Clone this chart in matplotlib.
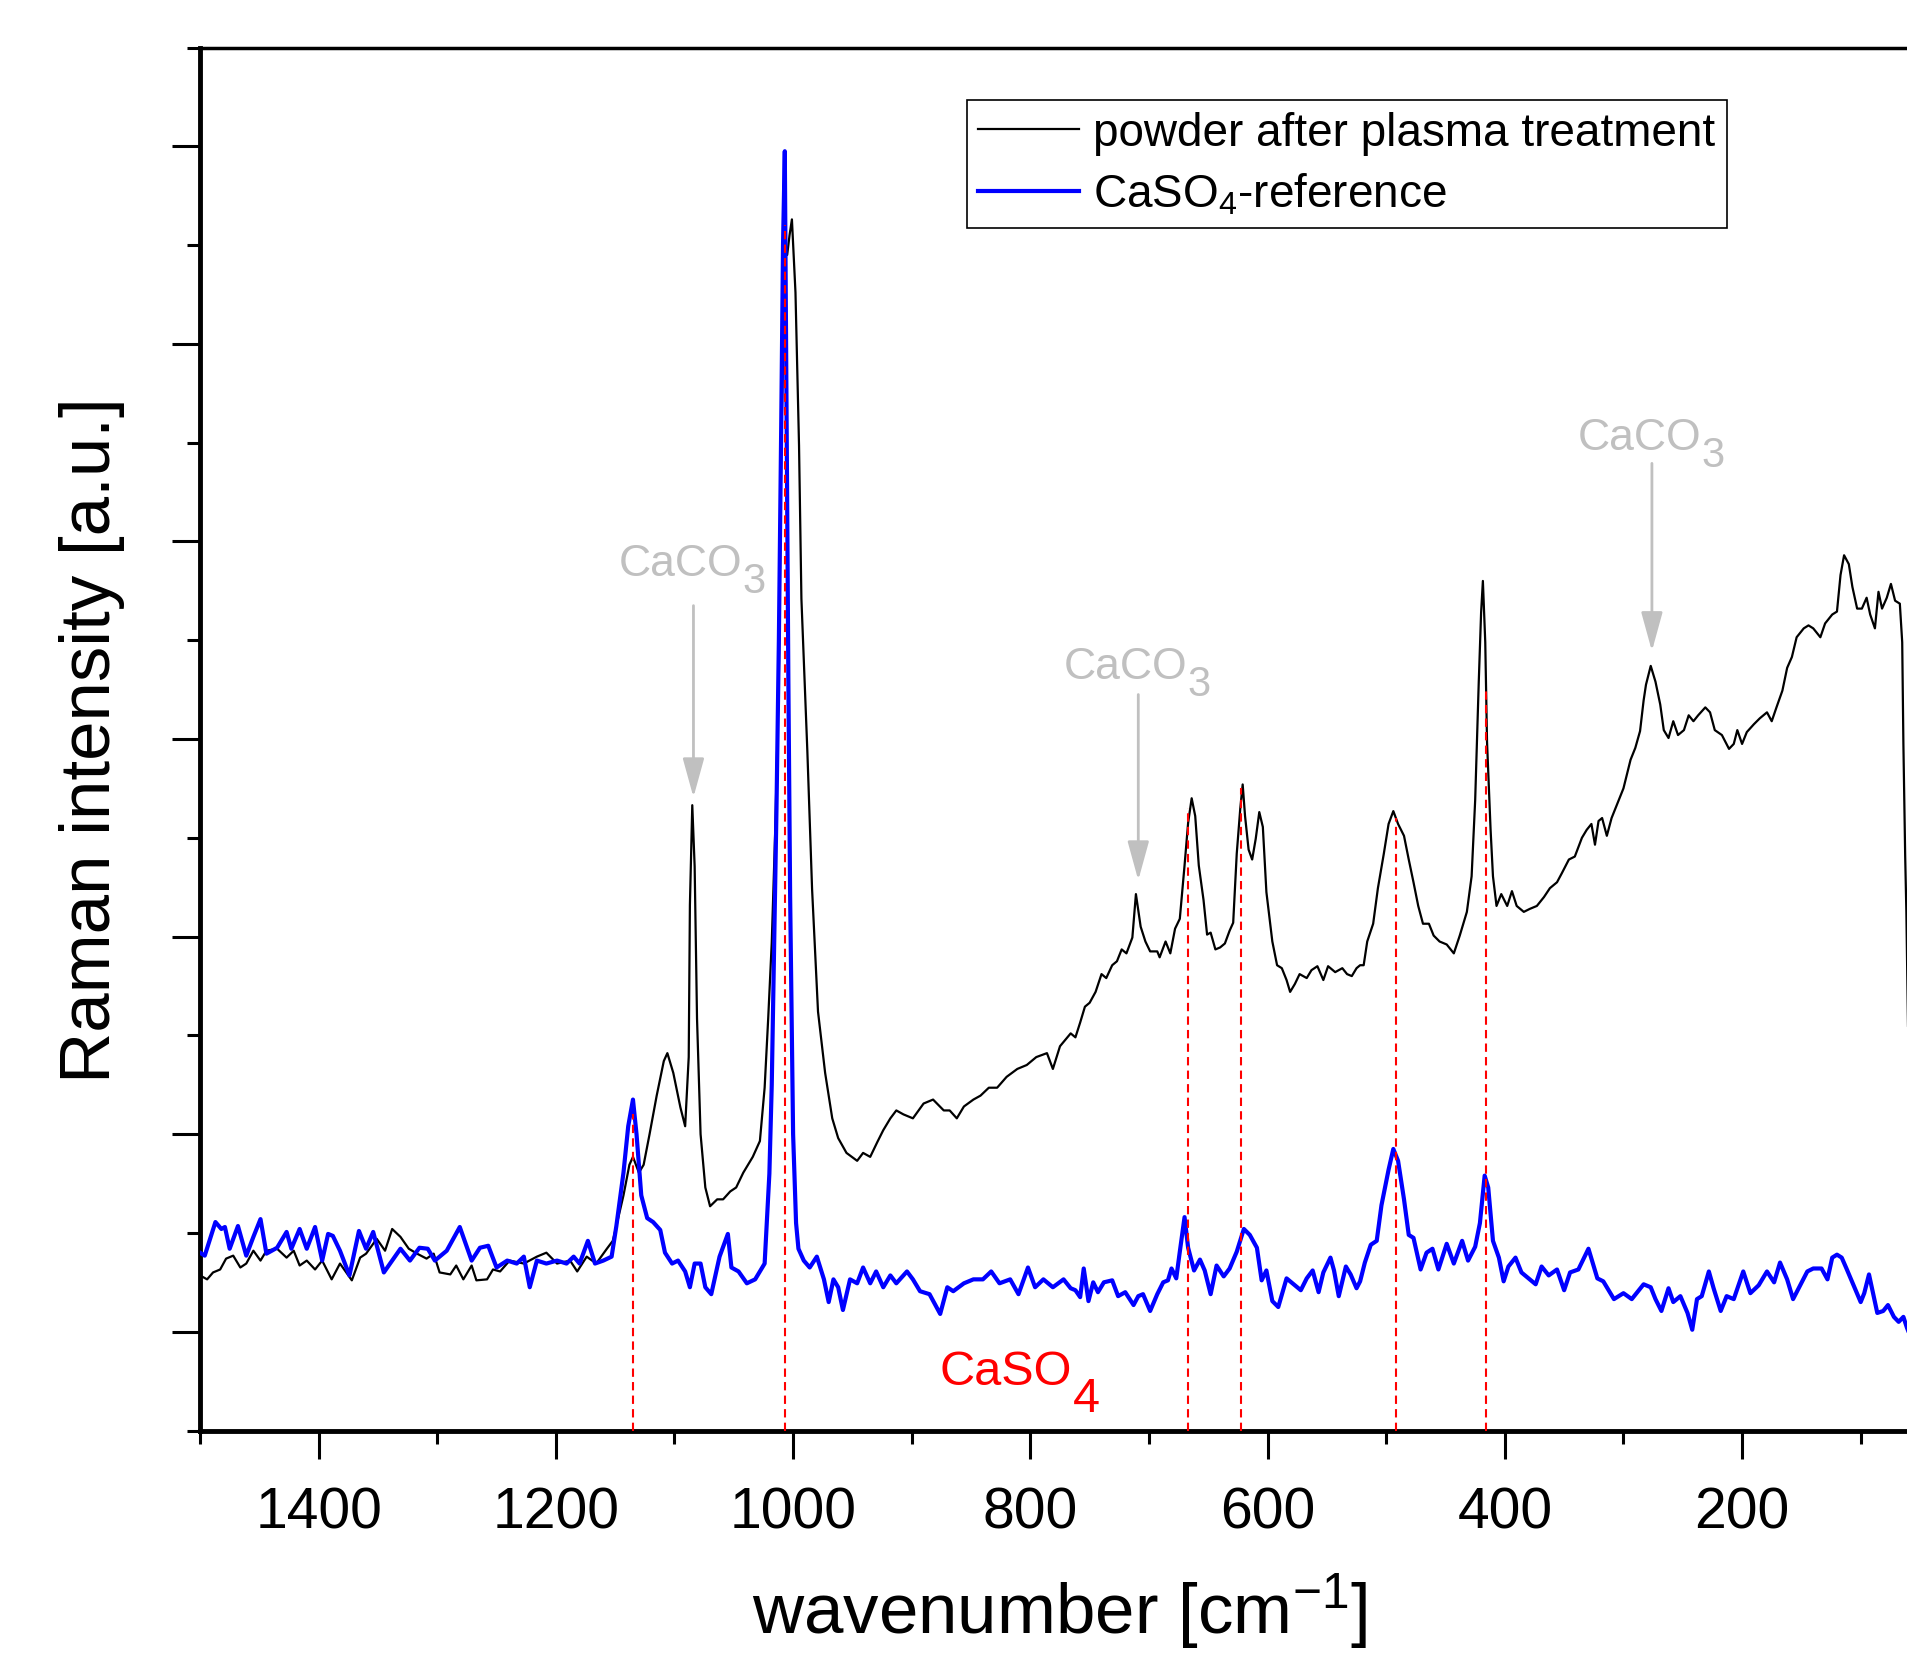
import matplotlib
matplotlib.use('Agg')
import matplotlib.pyplot as plt
from matplotlib.ticker import MultipleLocator, FixedLocator

plt.rcParams['font.family'] = ['Liberation Sans', 'DejaVu Sans']
plt.rcParams['mathtext.fontset'] = 'custom'
plt.rcParams['mathtext.rm'] = 'Liberation Sans'
plt.rcParams['mathtext.default'] = 'regular'

# powder after plasma treatment: (wavenumber, intensity)
sample_points = [
    (1500, 1.57), (1494, 1.53), (1489, 1.60), (1483, 1.63), (1478, 1.74), (1472, 1.77),
    (1466, 1.65), (1461, 1.69), (1455, 1.82), (1449, 1.72), (1444, 1.82), (1435, 1.84),
    (1427, 1.75), (1421, 1.82), (1416, 1.67), (1410, 1.72), (1403, 1.63), (1397, 1.72),
    (1389, 1.53), (1382, 1.69), (1372, 1.52), (1365, 1.75), (1360, 1.79), (1351, 1.94),
    (1344, 1.82), (1338, 2.04), (1331, 1.96), (1324, 1.84), (1317, 1.79), (1309, 1.74),
    (1303, 1.79), (1298, 1.60), (1289, 1.58), (1284, 1.67), (1278, 1.53), (1271, 1.67),
    (1267, 1.52), (1258, 1.53), (1253, 1.63), (1247, 1.61), (1239, 1.72), (1227, 1.69),
    (1216, 1.76), (1208, 1.80), (1199, 1.69), (1188, 1.72), (1182, 1.61), (1174, 1.76),
    (1166, 1.69), (1157, 1.84), (1152, 1.92), (1149, 2.07), (1143, 2.38), (1138, 2.69),
    (1135, 2.77), (1130, 2.61), (1126, 2.69), (1121, 3.00), (1115, 3.39), (1109, 3.74),
    (1106, 3.82), (1101, 3.62), (1095, 3.27), (1091, 3.08), (1088, 3.78), (1087, 5.32),
    (1085, 6.33), (1083, 5.71), (1081, 4.17), (1078, 3.00), (1074, 2.46), (1070, 2.27),
    (1064, 2.34), (1059, 2.34), (1053, 2.42), (1048, 2.46), (1042, 2.61), (1034, 2.77),
    (1028, 2.93), (1024, 3.47), (1021, 4.17), (1018, 4.94), (1015, 6.10), (1012, 7.65),
    (1010, 9.97), (1008, 11.14), (1007, 12.05), (1005, 11.9), (1003, 12.1), (1001, 12.26),
    (998, 11.52), (995, 9.97), (993, 8.42), (988, 6.88), (984, 5.48), (979, 4.24),
    (973, 3.62), (967, 3.16), (962, 2.96), (955, 2.81), (946, 2.73), (941, 2.81),
    (935, 2.77), (929, 2.92), (924, 3.04), (918, 3.16), (913, 3.24), (907, 3.20),
    (899, 3.16), (890, 3.31), (882, 3.35), (873, 3.24), (868, 3.24), (862, 3.16),
    (856, 3.28), (848, 3.35), (842, 3.39), (835, 3.47), (828, 3.47), (820, 3.58),
    (811, 3.66), (803, 3.70), (795, 3.78), (786, 3.82), (781, 3.66), (775, 3.89),
    (766, 4.02), (762, 3.98), (758, 4.13), (754, 4.29), (750, 4.33), (745, 4.44),
    (740, 4.62), (736, 4.58), (731, 4.71), (727, 4.75), (723, 4.87), (719, 4.83),
    (714, 4.99), (711, 5.43), (707, 5.10), (703, 4.95), (699, 4.85), (693, 4.85),
    (691, 4.79), (686, 4.95), (682, 4.83), (678, 5.08), (674, 5.18), (670, 5.72),
    (667, 6.15), (664, 6.40), (661, 6.22), (658, 5.72), (654, 5.37), (651, 5.02),
    (648, 5.04), (644, 4.87), (640, 4.89), (636, 4.93), (632, 5.06), (629, 5.14),
    (626, 5.84), (623, 6.30), (621, 6.54), (619, 6.22), (616, 5.88), (613, 5.78),
    (610, 5.99), (607, 6.26), (604, 6.11), (601, 5.45), (596, 4.95), (592, 4.71),
    (588, 4.68), (584, 4.56), (581, 4.44), (577, 4.52), (573, 4.62), (567, 4.58),
    (563, 4.66), (558, 4.70), (553, 4.56), (549, 4.70), (543, 4.64), (537, 4.68),
    (533, 4.62), (529, 4.60), (525, 4.68), (522, 4.71), (519, 4.71), (516, 4.95),
    (511, 5.13), (507, 5.49), (502, 5.84), (498, 6.14), (494, 6.27), (490, 6.14),
    (485, 6.02), (481, 5.78), (477, 5.55), (473, 5.31), (469, 5.13), (464, 5.13),
    (460, 5.01), (455, 4.95), (449, 4.92), (443, 4.83), (438, 5.01), (432, 5.25),
    (428, 5.61), (425, 6.38), (422, 7.57), (420, 8.28), (418.5, 8.60), (416.5, 7.98),
    (415, 6.97), (412, 6.08), (410, 5.61), (407, 5.31), (403, 5.43), (398, 5.31),
    (394, 5.46), (390, 5.31), (384, 5.25), (379, 5.28), (373, 5.31), (367, 5.40),
    (362, 5.49), (356, 5.55), (352, 5.64), (346, 5.78), (341, 5.81), (335, 6.00),
    (331, 6.08), (327, 6.14), (324, 5.93), (321, 6.17), (318, 6.20), (314, 6.02),
    (310, 6.20), (306, 6.32), (300, 6.50), (294, 6.79), (290, 6.91), (286, 7.08),
    (283, 7.39), (281, 7.55), (277, 7.74), (273, 7.58), (269, 7.35), (266, 7.09),
    (262, 7.01), (258, 7.18), (254, 7.04), (249, 7.09), (245, 7.24), (241, 7.18),
    (237, 7.24), (231, 7.32), (227, 7.27), (223, 7.09), (217, 7.04), (211, 6.90),
    (207, 6.95), (204, 7.09), (200, 6.95), (196, 7.07), (190, 7.15), (185, 7.21),
    (179, 7.27), (175, 7.18), (171, 7.32), (166, 7.49), (162, 7.72), (158, 7.83),
    (154, 8.03), (148, 8.12), (144, 8.15), (140, 8.12), (134, 8.03), (130, 8.17),
    (124, 8.26), (120, 8.29), (117, 8.66), (114, 8.86), (110, 8.77), (107, 8.54),
    (103, 8.32), (99, 8.32), (95, 8.43), (92, 8.26), (88, 8.12), (85, 8.49),
    (82, 8.32), (78, 8.43), (74.5, 8.57), (71, 8.40), (67, 8.37), (65, 7.98),
    (64, 6.95), (62.5, 5.82), (61.5, 5.25), (60, 4.0), (58, 3.0),
]

# CaSO4 reference spectrum
ref_points = [
    (1500, 1.80), (1496, 1.77), (1487, 2.11), (1482, 2.04), (1479, 2.06), (1475, 1.84),
    (1468, 2.07), (1461, 1.77), (1455, 1.96), (1449, 2.14), (1444, 1.79), (1435, 1.85),
    (1427, 2.01), (1423, 1.84), (1416, 2.04), (1410, 1.84), (1403, 2.06), (1397, 1.72),
    (1392, 1.99), (1388, 1.97), (1382, 1.82), (1374, 1.57), (1366, 2.02), (1360, 1.84),
    (1354, 2.01), (1345, 1.60), (1331, 1.84), (1323, 1.72), (1315, 1.85), (1308, 1.84),
    (1302, 1.72), (1292, 1.82), (1281, 2.06), (1271, 1.72), (1264, 1.85), (1257, 1.87),
    (1250, 1.65), (1241, 1.72), (1233, 1.69), (1227, 1.76), (1222, 1.45), (1216, 1.72),
    (1208, 1.69), (1199, 1.72), (1191, 1.69), (1185, 1.76), (1180, 1.69), (1173, 1.92),
    (1167, 1.69), (1160, 1.72), (1153, 1.76), (1149, 2.07), (1143, 2.61), (1139, 3.08),
    (1135, 3.35), (1132, 3.00), (1128, 2.38), (1123, 2.15), (1118, 2.11), (1112, 2.03),
    (1108, 1.80), (1102, 1.69), (1097, 1.72), (1091, 1.61), (1087, 1.45), (1083, 1.69),
    (1078, 1.69), (1074, 1.45), (1069, 1.38), (1062, 1.76), (1055, 1.99), (1052, 1.65),
    (1046, 1.61), (1039, 1.49), (1032, 1.53), (1024, 1.69), (1020, 2.6), (1018, 3.5),
    (1016, 4.9), (1014, 6.3), (1012, 8.0), (1010, 10.2), (1008.5, 12.0), (1007, 12.95),
    (1005.5, 10.2), (1004, 7.6), (1002.5, 5.4), (1000, 3.0), (997.5, 2.1), (995.5, 1.84),
    (991, 1.72), (986, 1.65), (980, 1.76), (974, 1.53), (970, 1.30), (966, 1.53),
    (962, 1.45), (958, 1.22), (952, 1.53), (946, 1.49), (941, 1.65), (935, 1.49),
    (930, 1.61), (924, 1.45), (918, 1.57), (913, 1.49), (904, 1.61), (899, 1.53),
    (893, 1.41), (885, 1.38), (876, 1.18), (870, 1.45), (865, 1.41), (856, 1.49),
    (848, 1.53), (840, 1.53), (833, 1.61), (826, 1.49), (817, 1.53), (810, 1.38),
    (802, 1.65), (796, 1.45), (789, 1.53), (781, 1.45), (772, 1.53), (766, 1.44),
    (762, 1.42), (758, 1.35), (755, 1.64), (751, 1.31), (747, 1.50), (743, 1.40),
    (738, 1.50), (731, 1.52), (726, 1.36), (720, 1.40), (713, 1.27), (709, 1.36),
    (705, 1.38), (699, 1.21), (693, 1.38), (688, 1.50), (684, 1.52), (681, 1.64),
    (677, 1.54), (674, 1.81), (670, 2.16), (667, 1.85), (662, 1.62), (657, 1.73),
    (653, 1.62), (648, 1.38), (643, 1.67), (637, 1.56), (632, 1.64), (626, 1.81),
    (620, 2.04), (615, 1.98), (609, 1.85), (605, 1.52), (601, 1.62), (596, 1.31),
    (591, 1.25), (584, 1.54), (578, 1.48), (572, 1.42), (567, 1.54), (562, 1.62),
    (557, 1.40), (553, 1.60), (547, 1.75), (544, 1.62), (540, 1.36), (534, 1.66),
    (530, 1.58), (525, 1.44), (522, 1.51), (518, 1.70), (513, 1.88), (508, 1.92),
    (504, 2.28), (498, 2.64), (494, 2.85), (490, 2.73), (485, 2.34), (481, 1.98),
    (477, 1.95), (471, 1.63), (466, 1.80), (461, 1.84), (456, 1.63), (449, 1.89),
    (443, 1.69), (436, 1.92), (431, 1.72), (425, 1.86), (421, 2.10), (417, 2.58),
    (414, 2.46), (410, 1.92), (405, 1.75), (401, 1.51), (397, 1.66), (391, 1.75),
    (386, 1.60), (380, 1.54), (374, 1.48), (369, 1.66), (363, 1.57), (356, 1.63),
    (350, 1.42), (345, 1.60), (338, 1.63), (329.5, 1.84), (322, 1.54), (317, 1.51),
    (308, 1.33), (300, 1.39), (293, 1.33), (283, 1.48), (277, 1.45), (273, 1.33),
    (268, 1.21), (262, 1.44), (258, 1.30), (252, 1.36), (246, 1.19), (242, 1.02),
    (238, 1.33), (234, 1.36), (228, 1.61), (224, 1.44), (218, 1.21), (213, 1.36),
    (207, 1.33), (203, 1.47), (199, 1.61), (193, 1.39), (186, 1.47), (179, 1.61),
    (173, 1.50), (168, 1.70), (162, 1.53), (157, 1.33), (151, 1.47), (145, 1.61),
    (140, 1.64), (133, 1.64), (128, 1.53), (124, 1.75), (120, 1.78), (116, 1.75),
    (112, 1.64), (106, 1.47), (100, 1.30), (97, 1.39), (93, 1.58), (89, 1.36),
    (86, 1.19), (81, 1.21), (77, 1.27), (72, 1.15), (68, 1.10), (64, 1.15),
    (61, 1.04), (58, 0.95),
]

# CaSO4 band positions (red dashed markers) and how high each marker reaches
caso4_peaks = [1135, 1007, 667, 622.5, 492, 415.5]
caso4_tops = [3.2, 12.2, 6.3, 6.5, 6.2, 7.5]

# CaCO3 bands marked with grey arrows
caco3_peaks = [1084, 709, 276]
caco3_tips = [6.41, 5.57, 7.89]
caco3_starts = [8.35, 7.45, 9.79]
caco3_label_y = [8.66, 7.62, 9.94]

x_major = [1400, 1200, 1000, 800, 600, 400, 200]
y_major = [1, 3, 5, 7, 9, 11, 13]
y_minor = [0, 2, 4, 6, 8, 10, 12, 14]

wn_sample, int_sample = zip(*sample_points)
wn_ref, int_ref = zip(*ref_points)

W, H = 1907, 1658
fig = plt.figure(figsize=(W / 100, H / 100), dpi=100)
ax = fig.add_axes([200 / W, 1 - 1431.5 / H, 1720 / W, 1383 / H])

ax.plot(wn_sample, int_sample, color='black', lw=1.6, zorder=3,
        label='powder after plasma treatment')
ax.plot(wn_ref, int_ref, color='#0000ff', lw=3, zorder=4,
        label='CaSO$_4$-reference')
ax.vlines(caso4_peaks, 0, caso4_tops, colors='red', linestyles=(0, (4, 2.5)),
          lw=1.5, zorder=5)

grey = '#c0c0c0'
for x, tip, start, ly in zip(caco3_peaks, caco3_tips, caco3_starts, caco3_label_y):
    ax.annotate('', xy=(x, tip), xytext=(x, start),
                arrowprops=dict(arrowstyle='-|>,head_length=1.2,head_width=0.33',
                                mutation_scale=20, color=grey, lw=2,
                                shrinkA=0, shrinkB=0))
    t = ax.annotate('CaCO', xy=(x, ly), xytext=(-9, 0), textcoords='offset points',
                    ha='center', va='baseline', fontsize=32, color=grey)
    ax.annotate('3', xy=(1, 0), xycoords=t, xytext=(0, -12.3),
                textcoords='offset points', ha='left', va='bottom',
                fontsize=30, color=grey)

t = ax.text(877, 0.47, 'CaSO', color='red', fontsize=35, ha='left', va='baseline')
ax.annotate('4', xy=(1, 0), xycoords=t, xytext=(1, -19.2),
            textcoords='offset points', ha='left', va='bottom',
            fontsize=35, color='red')

ax.set_xlim(1500, 50)
ax.set_ylim(0, 14)
ax.xaxis.set_major_locator(FixedLocator(x_major))
ax.xaxis.set_minor_locator(MultipleLocator(100))
ax.yaxis.set_major_locator(FixedLocator(y_major))
ax.yaxis.set_minor_locator(FixedLocator(y_minor))
ax.tick_params(which='major', direction='out', length=20, width=2.2,
               labelsize=41, pad=19.5)
ax.tick_params(which='minor', direction='out', length=9.5, width=2.2)
ax.tick_params(axis='y', labelleft=False)

ax.spines['right'].set_visible(False)
ax.spines['top'].set_linewidth(2.5)
ax.spines['left'].set_linewidth(3.5)
ax.spines['bottom'].set_linewidth(3.5)

ax.set_xlabel('wavenumber [cm$^{-1}$]', fontsize=51, labelpad=22)
ax.set_ylabel('Raman intensity [a.u.]', fontsize=51, labelpad=34)

leg = ax.legend(loc='upper left', bbox_to_anchor=(967 / W, 1 - 101 / H),
                bbox_transform=fig.transFigure, fontsize=33, frameon=True,
                fancybox=False, edgecolor='black', framealpha=1,
                handlelength=2.2, handletextpad=0.3, borderpad=0.25,
                labelspacing=0.34, borderaxespad=0)
leg.get_frame().set_linewidth(1.2)

fig.savefig('out.png', dpi=100)
